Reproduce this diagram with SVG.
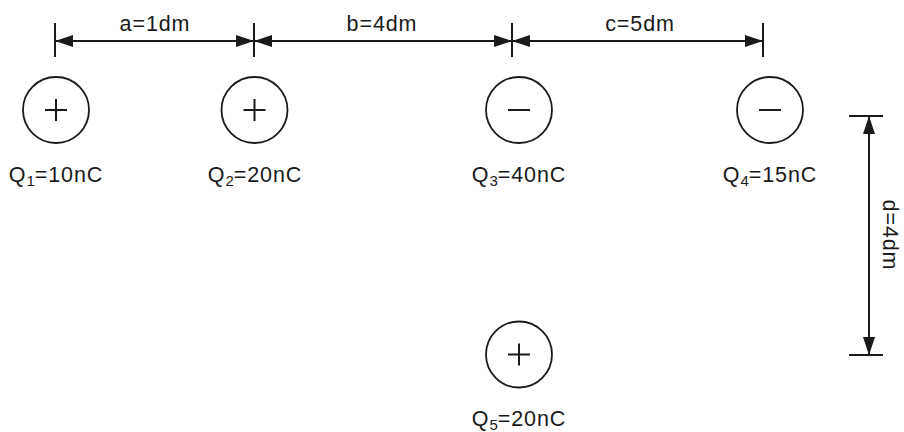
<svg xmlns="http://www.w3.org/2000/svg" width="904" height="432" viewBox="0 0 904 432">
<defs>
<style>
.ln{stroke:#1a1a1a;stroke-width:2;fill:none}
.cr{stroke:#1a1a1a;stroke-width:1.8;fill:#fff}
.sg{stroke:#1a1a1a;stroke-width:2;fill:none}
text{font-family:"Liberation Sans",Arial,sans-serif;font-size:21.5px;letter-spacing:0.9px;fill:#1a1a1a}
.lb{text-anchor:middle}
.sub{font-size:15px;letter-spacing:0}
</style>
<marker id="ah" viewBox="0 0 18 12" refX="18" refY="6" markerWidth="18" markerHeight="12" markerUnits="userSpaceOnUse" orient="auto-start-reverse">
<path d="M0,0 L18,6 L0,12 Z" fill="#1a1a1a"/>
</marker>
</defs>
<rect width="904" height="432" fill="#fff"/>
<g id="connectors">
<line class="ln" x1="55" y1="23" x2="55" y2="57"/>
<line class="ln" x1="254" y1="23" x2="254" y2="57"/>
<line class="ln" x1="512" y1="23" x2="512" y2="57"/>
<line class="ln" x1="763" y1="23" x2="763" y2="57"/>
<line class="ln" x1="55" y1="41" x2="254" y2="41" marker-start="url(#ah)" marker-end="url(#ah)"/>
<line class="ln" x1="254" y1="41" x2="512" y2="41" marker-start="url(#ah)" marker-end="url(#ah)"/>
<line class="ln" x1="512" y1="41" x2="763" y2="41" marker-start="url(#ah)" marker-end="url(#ah)"/>
<text class="lb" x="155" y="31">a=1dm</text>
<text class="lb" x="382" y="31">b=4dm</text>
<text class="lb" x="640" y="31">c=5dm</text>
<line class="ln" x1="849" y1="116" x2="883" y2="116"/>
<line class="ln" x1="849" y1="355" x2="883" y2="355"/>
<line class="ln" x1="869" y1="116" x2="869" y2="355" marker-start="url(#ah)" marker-end="url(#ah)"/>
<text class="lb" transform="translate(883,235) rotate(90)">d=4dm</text>
</g>
<g id="Q1">
<circle class="cr" cx="56" cy="110" r="33"/>
<path class="sg" d="M45,110 H67 M56,99 V121"/>
<text class="lb" x="56" y="182">Q<tspan class="sub" dy="4">1</tspan><tspan dy="-4">=10nC</tspan></text>
</g>
<g id="Q2">
<circle class="cr" cx="254.5" cy="110" r="33"/>
<path class="sg" d="M243.5,110 H265.5 M254.5,99 V121"/>
<text class="lb" x="255" y="182">Q<tspan class="sub" dy="4">2</tspan><tspan dy="-4">=20nC</tspan></text>
</g>
<g id="Q3">
<circle class="cr" cx="519" cy="110" r="33"/>
<path class="sg" d="M508,110 H530"/>
<text class="lb" x="519" y="182">Q<tspan class="sub" dy="4">3</tspan><tspan dy="-4">=40nC</tspan></text>
</g>
<g id="Q4">
<circle class="cr" cx="770" cy="110" r="33"/>
<path class="sg" d="M759,110 H781"/>
<text class="lb" x="770" y="182">Q<tspan class="sub" dy="4">4</tspan><tspan dy="-4">=15nC</tspan></text>
</g>
<g id="Q5">
<circle class="cr" cx="519" cy="354.5" r="33"/>
<path class="sg" d="M508,354.5 H530 M519,343.5 V365.5"/>
<text class="lb" x="519" y="426">Q<tspan class="sub" dy="4">5</tspan><tspan dy="-4">=20nC</tspan></text>
</g>
</svg>
